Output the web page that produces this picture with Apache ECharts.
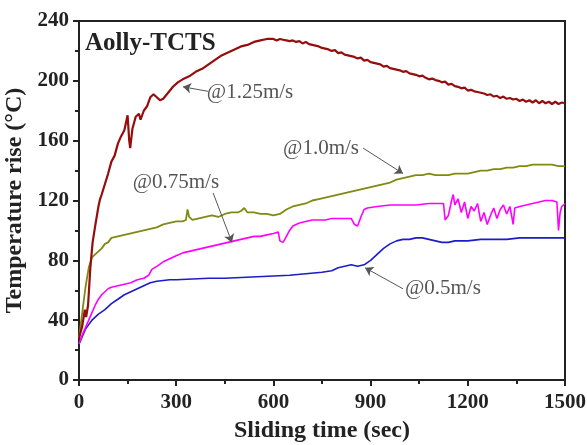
<!DOCTYPE html>
<html>
<head>
  <meta http-equiv="Content-Type" content="text/html; charset=UTF-8">
  <title>Temperature rise</title>
  <style>
    html, body { margin: 0; padding: 0; background: #fff; }
    #myChart { width: 587px; height: 445px; }
  </style>
</head>
<body>
  <div id="myChart"></div>
  <script src="https://cdn.jsdelivr.net/npm/echarts@6/dist/echarts.min.js"></script>
  <script>
    // sliding speed 1.25 m/s
    const t125 = [0, 10, 18, 22, 28, 35, 42, 50, 60, 65, 70, 80, 90, 100, 110, 120, 130, 140, 145, 150, 155, 158, 165, 175, 185, 190, 200, 210, 220, 230, 240, 250, 260, 275, 290, 305, 320, 340, 360, 380, 400, 420, 440, 460, 480, 500, 520, 540, 560, 580, 600,
      610, 620, 630, 640, 650, 660, 670, 680, 690, 700, 710, 720, 730, 740, 750, 760, 770, 780, 790, 800, 810, 820, 830, 840, 850, 860, 870, 880, 890, 900, 910, 920, 930, 940, 950, 960, 970, 980, 990, 1000,
      1010, 1020, 1030, 1040, 1050, 1060, 1070, 1080, 1090, 1100, 1110, 1120, 1130, 1140, 1150, 1160, 1170, 1180, 1190, 1200, 1210, 1220, 1230, 1240, 1250, 1260, 1270, 1280, 1290, 1300,
      1310, 1320, 1330, 1340, 1350, 1360, 1370, 1380, 1390, 1400, 1410, 1420, 1430, 1440, 1450, 1460, 1470, 1480, 1490, 1500];
    const v125 = [28, 36, 47, 42, 50, 75, 92, 103, 116, 121, 124, 131, 138, 146, 150, 158, 163, 167, 172, 177, 160, 155, 168, 176, 178, 174, 180, 183, 189, 191, 189, 187, 188, 192, 196, 199, 201, 203, 206, 208, 211, 214, 217, 219, 221, 223, 224, 226, 227, 228, 228,
      227, 228, 227.5, 227, 226.5, 227, 226, 226.5, 225, 226, 224.5, 224, 223.5, 223, 222, 221.5, 221, 220, 220.5, 218.5, 219, 217.5, 217, 216.5, 216, 215, 215.5, 213.5, 214, 212.5, 212, 211.5, 211, 209.5, 210, 208.5, 208, 207.5, 207, 206,
      206.5, 205, 204.5, 204, 203, 203.5, 202, 201, 201.5, 200.5, 200, 199, 199.5, 197.5, 198, 196.5, 196, 195, 195.5, 193.5, 194, 193, 192.5, 192, 191.5, 190.5, 191, 189.5, 190, 188.5,
      189.5, 188, 188.5, 187.5, 188, 186.5, 187.5, 186, 187, 185.5, 187, 185, 186.5, 185, 186, 184.5, 186, 184.5, 185.5, 185];

    // sliding speed 1.0 m/s
    const t100 = [0, 10, 20, 30, 40, 50, 60, 70, 80, 90, 100, 120, 140, 160, 180, 200, 220, 240, 260, 280, 300, 320, 330, 335, 340, 350, 370, 390, 410, 430, 450, 470, 490, 500, 510, 520, 540, 560, 580, 600, 620, 640, 660, 680, 700,
      720, 740, 760, 780, 800, 820, 840, 860, 880, 900, 920, 940, 960, 980, 1000, 1020, 1040, 1060, 1080, 1100, 1120, 1140, 1160, 1180, 1200, 1220, 1240, 1260, 1280, 1300, 1320, 1340, 1360, 1380, 1400, 1420, 1440, 1460, 1480, 1500];
    const v100 = [28, 45, 62, 75, 82, 84, 86, 88, 91, 92, 95, 96, 97, 98, 99, 100, 101, 102, 104, 105, 106, 106, 107, 114, 109, 107, 108, 109, 110, 109, 111, 112, 112, 113, 115, 112, 112, 111, 111, 110, 111, 114, 116, 117, 118,
      120, 121, 122, 123, 124, 125, 126, 127, 128, 129, 130, 131, 132, 134, 135, 136, 137, 137, 138, 137, 137, 137, 138, 138, 138, 139, 140, 140, 141, 141, 142, 142, 143, 143, 144, 144, 144, 144, 143, 143];

    // sliding speed 0.75 m/s
    const t075 = [0, 10, 20, 30, 40, 50, 60, 70, 80, 90, 100, 120, 140, 160, 180, 200, 215, 225, 240, 260, 280, 300, 320, 340, 360, 380, 400, 420, 440, 460, 480, 500, 520, 540, 560, 580, 600, 615, 620, 630, 640, 650, 660, 680, 700,
      720, 740, 760, 780, 800, 820, 840, 850, 860, 870, 880, 890, 920, 960, 1000, 1040, 1080, 1110, 1125, 1130, 1140, 1150, 1155, 1160, 1170, 1180, 1190, 1200, 1210, 1220, 1230, 1240, 1250, 1260, 1270, 1280, 1290, 1300,
      1310, 1320, 1330, 1340, 1345, 1360, 1380, 1400, 1420, 1440, 1460, 1475, 1480, 1485, 1490, 1500];
    const v075 = [24, 30, 35, 40, 45, 50, 54, 57, 59, 61, 62, 63, 64, 65, 67, 68, 70, 74, 76, 79, 81, 83, 85, 86, 87, 88, 89, 90, 91, 92, 93, 94, 95, 96, 96, 97, 98, 99, 93, 92, 96, 100, 103, 105, 106,
      107, 107, 107, 108, 108, 108, 108, 104, 103, 109, 114, 115, 116, 117, 117, 117, 118, 118, 118, 107, 110, 120, 124, 117, 121, 112, 119, 108, 116, 113, 118, 106, 112, 104, 110, 115, 108, 114,
      117, 111, 116, 104, 115, 116, 117, 118, 119, 120, 120, 119, 100, 112, 116, 118];

    // sliding speed 0.5 m/s
    const t050 = [0, 10, 20, 30, 40, 50, 60, 80, 100, 120, 140, 160, 180, 200, 220, 240, 260, 280, 300, 350, 400, 450, 500, 550, 600, 650, 700, 750, 780, 800, 820, 840, 860, 880, 900, 920, 940, 960, 980, 1000,
      1020, 1040, 1060, 1080, 1100, 1120, 1140, 1160, 1200, 1240, 1280, 1320, 1360, 1400, 1440, 1500];
    const v050 = [24, 29, 34, 37, 40, 42, 44, 47, 51, 54, 57, 59, 61, 63, 65, 66, 66.5, 67, 67, 67.5, 68, 68, 68.5, 69, 69.5, 70, 71, 72, 73, 75, 76, 77, 76, 77, 80, 84, 88, 91, 93, 94,
      94, 95, 95, 94, 93, 92, 92, 93, 93, 94, 94, 94, 95, 95, 95, 95];

    const xTicks = [0, 300, 600, 900, 1200, 1500];
    const yTicks = [0, 40, 80, 120, 160, 200, 240];

    const serif = "'Liberation Serif', 'Times New Roman', serif";
    const pairs = (t, v) => t.map((x, i) => [x, v[i]]);

    function note(text, at, from, to) {
      return {
        markLine: {
          silent: true,
          symbol: ['none', 'arrow'],
          symbolSize: 8,
          label: { show: false },
          lineStyle: { color: '#555', width: 1, type: 'solid' },
          data: [[{ coord: from }, { coord: to }]]
        },
        markPoint: {
          silent: true,
          symbol: 'rect',
          symbolSize: 1,
          itemStyle: { color: 'rgba(0,0,0,0)' },
          label: {
            show: true, position: 'inside', formatter: text,
            color: '#555', fontSize: 21, fontFamily: serif
          },
          data: [{ coord: at }]
        }
      };
    }

    function line(name, t, v, color, width, extra) {
      return Object.assign({
        name, type: 'line', showSymbol: false, symbol: 'none',
        data: pairs(t, v),
        lineStyle: { color, width },
        itemStyle: { color }
      }, extra);
    }

    const myChart = echarts.init(document.getElementById('myChart'));
    const axisFont = { fontFamily: serif, fontWeight: 'bold', color: '#222', fontSize: 21 };
    const titleFont = { fontFamily: serif, fontWeight: 'bold', color: '#222', fontSize: 24 };
    const option = {
      animation: false,
      grid: {
        left: 79, right: 22, top: 21, bottom: 65, containLabel: false, outerBoundsMode: 'none',
        show: true, borderColor: '#222', borderWidth: 2
      },
      graphic: [{
        type: 'text', left: 85, top: 31,
        style: { text: 'Aolly-TCTS', fontFamily: serif, fontWeight: 'bold', fontSize: 25, fill: '#222' }
      }],
      xAxis: {
        type: 'value', min: 0, max: 1500, interval: 300,
        name: 'Sliding time (sec)', nameLocation: 'middle', nameGap: 39,
        nameTextStyle: titleFont,
        axisLine: { lineStyle: { color: '#222', width: 2 } },
        axisTick: { lineStyle: { width: 2 }, length: 6 },
        minorTick: { show: true, splitNumber: 2, length: 4, lineStyle: { color: '#222', width: 2 } },
        splitLine: { show: false },
        axisLabel: Object.assign({ margin: 12, formatter: v => xTicks.includes(v) ? String(v) : '' }, axisFont)
      },
      yAxis: {
        type: 'value', min: 0, max: 240, interval: 40,
        name: 'Temperature rise (\u00b0C)', nameLocation: 'middle', nameGap: 42,
        nameTextStyle: titleFont,
        axisLine: { show: true, lineStyle: { color: '#222', width: 2 } },
        axisTick: { show: true, lineStyle: { width: 2 }, length: 6 },
        minorTick: { show: true, splitNumber: 2, length: 4, lineStyle: { color: '#222', width: 2 } },
        splitLine: { show: false },
        axisLabel: Object.assign({ margin: 10, formatter: v => yTicks.includes(v) ? String(v) : '' }, axisFont)
      },
      series: [
        line('0.5m/s', t050, v050, '#1c1cc8', 1.6, note('@0.5m/s', [1123, 61], [1000, 61], [883, 75])),
        line('0.75m/s', t075, v075, '#ff00ff', 1.6, note('@0.75m/s', [299, 132], [414, 125], [472, 92])),
        line('1.0m/s', t100, v100, '#808a10', 1.8, note('@1.0m/s', [747, 155], [877, 155], [1000, 138])),
        line('1.25m/s', t125, v125, '#960d0d', 2.2, note('@1.25m/s', [528, 192], [398, 193], [321, 196]))
      ]
    };
    myChart.setOption(option);
  </script>
</body>
</html>
